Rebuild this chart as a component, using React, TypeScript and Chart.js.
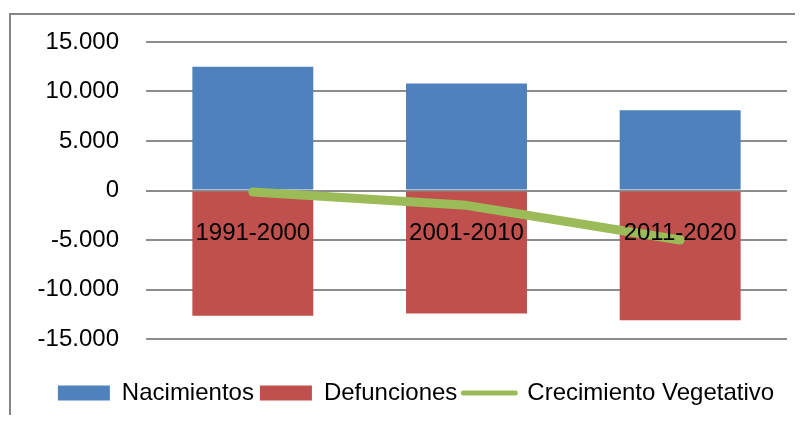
import React, { useEffect, useRef } from "react";
import { Chart, registerables } from "chart.js";

Chart.register(...registerables);

const categories = ["1991-2000", "2001-2010", "2011-2020"];
const nacimientos = [12500, 10800, 8100];
const defunciones = [-12650, -12420, -13100];
const crecimiento = [-150, -1500, -5000];
const yTicks = [-15000, -10000, -5000, 0, 5000, 10000, 15000];

const FONT = "'Liberation Sans', Arial, sans-serif";
const FONT_SIZE = 24;

function fmt(v: number): string {
  const s = Math.abs(v).toString().replace(/\B(?=(\d{3})+(?!\d))/g, ".");
  return (v < 0 ? "-" : "") + s;
}

const framePlugin = {
  id: "frame",
  beforeDraw(chart: any) {
    const { ctx, width, height } = chart;
    ctx.save();
    ctx.strokeStyle = "#868686";
    ctx.lineWidth = 2;
    ctx.strokeRect(2, 6, width - 4, height + 20);
    ctx.restore();
  },
};

// category labels drawn next to the zero line, on top of the marks
const catLabelPlugin = {
  id: "catLabels",
  afterDatasetsDraw(chart: any) {
    const { ctx } = chart;
    const x = chart.scales.x;
    const y = chart.scales.y;
    const y0 = y.getPixelForValue(0);
    ctx.save();
    ctx.fillStyle = "#000";
    ctx.font = `${FONT_SIZE}px ${FONT}`;
    ctx.textAlign = "center";
    ctx.textBaseline = "middle";
    categories.forEach((c, i) => {
      ctx.fillText(c, x.getPixelForValue(i), y0 + 43);
    });
    ctx.restore();
  },
};

export default function App() {
  const ref = useRef<HTMLCanvasElement>(null);
  useEffect(() => {
    document.body.style.overflow = "hidden";
    const chart = new Chart(ref.current!, {
      type: "bar",
      data: {
        labels: categories,
        datasets: [
          {
            label: "Nacimientos",
            data: nacimientos,
            backgroundColor: "#4F81BD",
            grouped: false,
            order: 2,
          } as any,
          {
            label: "Defunciones",
            data: defunciones,
            backgroundColor: "#C0504D",
            grouped: false,
            order: 2,
          } as any,
          {
            type: "line",
            label: "Crecimiento Vegetativo",
            data: crecimiento,
            borderColor: "#9BBB59",
            backgroundColor: "#9BBB59",
            borderWidth: 9,
            borderCapStyle: "round",
            borderJoinStyle: "round",
            pointRadius: 0,
            tension: 0,
            order: 1,
          } as any,
        ],
      },
      options: {
        animation: false,
        responsive: false,
        maintainAspectRatio: false,
        datasets: { bar: { categoryPercentage: 1, barPercentage: 0.566 } } as any,
        layout: { padding: { top: 34, right: 10, bottom: 8, left: 10 } },
        plugins: {
          tooltip: { enabled: false },
          legend: {
            position: "bottom",
            labels: {
              color: "#000",
              font: { family: FONT, size: FONT_SIZE },
              usePointStyle: true,
              pointStyleWidth: 52,
              boxWidth: 52,
              boxHeight: 15,
              padding: 6,
              sort: (a: any, b: any) => a.datasetIndex - b.datasetIndex,
              generateLabels(chart: any) {
                const items = Chart.defaults.plugins.legend.labels.generateLabels(chart);
                return items.map((it: any) => {
                  if (it.datasetIndex === 2) {
                    return { ...it, pointStyle: "line", lineWidth: 5, lineCap: "round", strokeStyle: "#9BBB59" };
                  }
                  return { ...it, pointStyle: "rect", lineWidth: 0 };
                });
              },
            },
          },
        },
        scales: {
          x: {
            afterFit(scale: any) {
              scale.height = 36;
            },
            grid: { display: false, drawTicks: false },
            border: { display: false },
            ticks: { display: false },
          },
          y: {
            min: -15000,
            max: 15000,
            afterFit(scale: any) {
              scale.width = 128;
            },
            afterBuildTicks(scale: any) {
              scale.ticks = yTicks.map((v) => ({ value: v }));
            },
            grid: { color: "#8c8c8c", lineWidth: 2, drawTicks: true, tickLength: 27, tickColor: "rgba(0,0,0,0)" },
            border: { display: false },
            ticks: {
              color: "#000",
              font: { family: FONT, size: FONT_SIZE },
              padding: 0,
              callback: (v: any) => fmt(Number(v)),
            },
          },
          yRightSpace: {
            type: "linear",
            position: "right",
            display: true,
            min: -15000,
            max: 15000,
            afterFit(scale: any) {
              scale.width = 27;
            },
            grid: { display: false, drawTicks: false },
            border: { display: false },
            ticks: { display: false },
          } as any,
        },
      },
      plugins: [framePlugin, catLabelPlugin],
    });
    return () => chart.destroy();
  }, []);
  return (
    <div style={{ width: 795, height: 415, overflow: "hidden", marginBottom: -8 }}>
      <canvas ref={ref} width={816} height={415} style={{ display: "block", width: 816, height: 415 }} />
    </div>
  );
}
